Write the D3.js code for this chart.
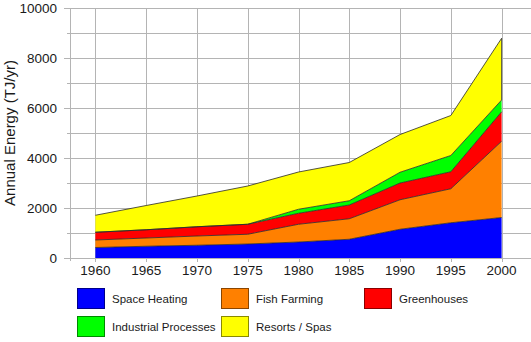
<!DOCTYPE html>
<html>
<head>
<meta charset="utf-8">
<script src="https://cdn.jsdelivr.net/npm/d3@7"></script>
<style>
  body { margin: 0; background: #fff; }
  text { font-family: "Liberation Sans", Arial, sans-serif; fill: #1a1a1a; }
</style>
</head>
<body>
<div id="chart"></div>
<script>
// --- data (TJ/yr per use) ---
const years = [1960, 1965, 1970, 1975, 1980, 1985, 1990, 1995, 2000];
const spaceHeating = [420, 470, 510, 560, 640, 750, 1150, 1410, 1620];
const fishFarming  = [300, 330, 370, 390, 710, 820, 1180, 1360, 3050];
const greenhouses  = [310, 330, 370, 400, 440, 550, 670, 680, 1180];
const industrial   = [0, 0, 0, 0, 160, 170, 430, 650, 470];
const resorts      = [680, 970, 1230, 1530, 1490, 1530, 1510, 1600, 2470];
const yTicks = [0, 2000, 4000, 6000, 8000, 10000];

const series = [
  { key: "space", label: "Space Heating", values: spaceHeating, color: "#0000ff", stroke: "#00008a" },
  { key: "fish", label: "Fish Farming", values: fishFarming, color: "#ff8000", stroke: "#8a4500" },
  { key: "green", label: "Greenhouses", values: greenhouses, color: "#ff0000", stroke: "#8a0000" },
  { key: "ind", label: "Industrial Processes", values: industrial, color: "#00ff00", stroke: "#008a00" },
  { key: "resorts", label: "Resorts / Spas", values: resorts, color: "#ffff00", stroke: "#8a8a00" }
];

const W = 531, H = 342;
const plot = { left: 70, right: 527, top: 8, bottom: 258 };

const svg = d3.select("#chart").append("svg")
  .attr("width", W)
  .attr("height", H);

const x = d3.scaleLinear().domain([1957.5, 2002.5]).range([plot.left, plot.right]);
const y = d3.scaleLinear().domain([0, 10000]).range([plot.bottom, plot.top]);

// table for the stack
const table = years.map((yr, i) => {
  const row = { year: yr };
  series.forEach(s => row[s.key] = s.values[i]);
  return row;
});
const stacked = d3.stack().keys(series.map(s => s.key))(table);

// grid
const grid = svg.append("g").attr("stroke", "#b4b4b4").attr("stroke-width", 1);
d3.range(0, 10001, 1000).forEach(v => {
  const major = v % 2000 === 0;
  grid.append("line")
    .attr("x1", major ? plot.left - 6 : plot.left - 3)
    .attr("x2", W)
    .attr("y1", Math.round(y(v)) + 0.5)
    .attr("y2", Math.round(y(v)) + 0.5);
});
grid.append("line")
  .attr("x1", plot.left + 0.5).attr("x2", plot.left + 0.5)
  .attr("y1", plot.top).attr("y2", plot.bottom + 3);
years.forEach(yr => {
  grid.append("line")
    .attr("x1", Math.round(x(yr)) + 0.5).attr("x2", Math.round(x(yr)) + 0.5)
    .attr("y1", plot.top).attr("y2", plot.bottom + 4);
});

// areas
const area = d3.area()
  .x(d => x(d.data.year))
  .y0(d => y(d[0]))
  .y1(d => y(d[1]));
const topLine = d3.line()
  .x(d => x(d.data.year))
  .y(d => y(d[1]));

svg.append("g").selectAll("path")
  .data(stacked)
  .join("path")
  .attr("d", area)
  .attr("fill", (d, i) => series[i].color);

svg.append("g").selectAll("path")
  .data(stacked)
  .join("path")
  .attr("d", topLine)
  .attr("fill", "none")
  .attr("stroke", "#2a2a2a")
  .attr("stroke-width", 0.8);

// right edge of the top layer
const last = stacked[stacked.length - 1][years.length - 1];
svg.append("line")
  .attr("x1", x(2000)).attr("x2", x(2000))
  .attr("y1", y(last[1])).attr("y2", y(last[0]))
  .attr("stroke", "#2a2a2a").attr("stroke-width", 0.8);

// y tick labels
svg.append("g").selectAll("text")
  .data(yTicks)
  .join("text")
  .attr("x", 57)
  .attr("y", d => y(d) + 5)
  .attr("text-anchor", "end")
  .attr("font-size", "13.5px")
  .text(d => d);

// x tick labels
svg.append("g").selectAll("text")
  .data(years)
  .join("text")
  .attr("x", d => x(d))
  .attr("y", 275)
  .attr("text-anchor", "middle")
  .attr("font-size", "13.5px")
  .text(d => d);

// y axis title
svg.append("text")
  .attr("transform", `translate(15,${(plot.top + plot.bottom) / 2}) rotate(-90)`)
  .attr("text-anchor", "middle")
  .attr("font-size", "15px")
  .text("Annual Energy (TJ/yr)");

// legend
const legendPos = [
  { x: 77, y: 288 }, { x: 221, y: 288 }, { x: 364, y: 288 },
  { x: 77, y: 316 }, { x: 221, y: 316 }
];
const lg = svg.append("g").selectAll("g")
  .data(series)
  .join("g")
  .attr("transform", (d, i) => `translate(${legendPos[i].x},${legendPos[i].y})`);
lg.append("rect")
  .attr("x", 0.5).attr("y", 0.5)
  .attr("width", 27).attr("height", 20)
  .attr("fill", d => d.color)
  .attr("stroke", d => d.stroke)
  .attr("stroke-width", 1);
lg.append("text")
  .attr("x", 35)
  .attr("y", 15)
  .attr("font-size", "11.5px")
  .text(d => d.label);
</script>
</body>
</html>
